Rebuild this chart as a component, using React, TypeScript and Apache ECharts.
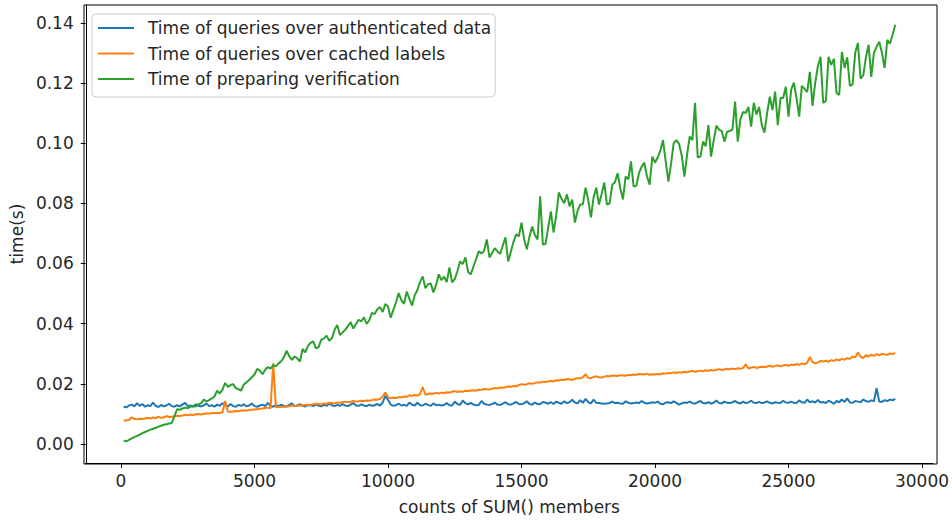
import React, { useEffect, useRef } from "react";
import * as echarts from "echarts";

// x: counts of SUM() members (regular grid, 100 .. 29000)
const COUNT_START = 100;
const COUNT_STEP = 100;

// Times in units of 0.1 ms (1e-4 s)
const authenticatedTenthMs = [
  124, 122, 128, 131, 125, 136, 127, 133, 124, 129,
  126, 138, 127, 123, 130, 125, 128, 134, 126, 124,
  129, 125, 131, 137, 126, 128, 124, 132, 127, 125,
  128, 135, 126, 129, 124, 131, 127, 136, 129, 125,
  133, 126, 124, 130, 127, 132, 125, 128, 135, 126,
  124, 128, 131, 126, 137, 127, 124, 129, 126, 131,
  127, 124, 130, 135, 126, 128, 133, 127, 125, 130,
  129, 126, 132, 128, 125, 131, 127, 134, 129, 126,
  130, 127, 133, 128, 126, 131, 136, 128, 127, 132,
  128, 126, 131, 127, 129, 133, 128, 138, 160, 147,
  131, 127, 129, 134, 128, 130, 127, 138, 131, 128,
  137, 129, 128, 134, 130, 127, 135, 129, 131, 128,
  130, 136, 129, 128, 141, 133, 130, 145, 135, 132,
  137, 131, 129, 130, 143, 134, 131, 130, 133, 138,
  131, 130, 134, 139, 132, 131, 135, 140, 133, 132,
  136, 142, 133, 131, 138, 133, 132, 140, 137, 134,
  139, 133, 141, 137, 134, 142, 136, 139, 147, 138,
  135, 146, 137, 150, 139, 135, 148, 137, 136, 135,
  134, 135, 136, 141, 136, 137, 135, 134, 142, 137,
  135, 136, 138, 136, 143, 137, 135, 136, 139, 137,
  141, 134, 132, 138, 139, 136, 142, 137, 131, 135,
  138, 137, 141, 136, 134, 139, 143, 136, 135, 139,
  134, 137, 145, 136, 135, 141, 137, 136, 139, 143,
  137, 135, 141, 136, 138, 144, 137, 136, 140, 136,
  138, 142, 137, 135, 139, 137, 136, 144, 138, 137,
  141, 137, 136, 145, 139, 137, 148, 139, 142, 138,
  146, 138, 140, 136, 144, 139, 134, 143, 139, 148,
  140, 152, 138, 137, 143, 141, 139, 148, 143, 140,
  145, 142, 186, 141, 140, 146, 143, 148, 145, 150,
];

const cachedTenthMs = [
  77, 79, 80, 89, 84, 82, 84, 83, 85, 87,
  85, 88, 86, 91, 87, 88, 93, 90, 91, 92,
  94, 93, 95, 97, 96, 98, 96, 99, 100, 98,
  100, 102, 101, 103, 102, 104, 103, 106, 143, 108,
  107, 108, 110, 109, 111, 112, 111, 113, 114, 115,
  116, 117, 118, 120, 121, 119, 268, 122, 123, 124,
  124, 126, 125, 128, 127, 126, 129, 128, 130, 131,
  130, 132, 134, 133, 131, 135, 134, 137, 136, 135,
  138, 137, 139, 141, 139, 140, 143, 141, 142, 144,
  143, 145, 144, 146, 148, 147, 150, 158, 171, 156,
  152, 154, 153, 156, 155, 158, 157, 162, 160, 163,
  161, 166, 189, 164, 166, 168, 167, 170, 168, 171,
  169, 172, 171, 174, 176, 173, 175, 174, 177, 176,
  178, 179, 177, 181, 180, 183, 182, 181, 184, 186,
  185, 188, 187, 189, 191, 190, 193, 192, 196, 199,
  197, 199, 202, 200, 203, 205, 204, 207, 206, 208,
  210, 208, 212, 211, 214, 213, 216, 215, 213, 217,
  219, 218, 222, 232, 220, 219, 223, 225, 222, 221,
  224, 226, 225, 228, 227, 226, 229, 228, 227, 230,
  229, 231, 230, 233, 232, 231, 234, 230, 232, 231,
  233, 232, 235, 234, 236, 235, 238, 236, 239, 237,
  240, 238, 241, 243, 240, 242, 244, 242, 245, 243,
  246, 244, 247, 249, 246, 248, 250, 248, 251, 249,
  252, 250, 253, 265, 251, 254, 256, 253, 255, 257,
  256, 258, 260, 257, 259, 262, 258, 261, 263, 260,
  264, 262, 266, 263, 268, 265, 270, 289, 273, 268,
  271, 276, 274, 277, 273, 279, 276, 281, 278, 283,
  280, 286, 283, 291, 288, 304, 290, 286, 295, 291,
  297, 293, 299, 295, 300, 298, 296, 301, 299, 303,
];

const preparingTenthMs = [
  11, 9, 14, 19, 23, 27, 31, 36, 40, 44,
  48, 51, 54, 58, 61, 64, 66, 68, 70, 92,
  116, 114, 118, 121, 119, 124, 127, 125, 132, 135,
  148, 142, 146, 152, 158, 177, 168, 181, 203, 190,
  196, 199, 186, 182, 178, 198, 205, 213, 222, 231,
  250, 244, 232, 247, 256, 251, 262, 258, 268, 275,
  288, 310, 292, 280, 291, 285, 274, 316, 305, 326,
  336, 341, 318, 322, 347, 351, 360, 343, 352, 380,
  396, 362, 371, 380, 392, 405, 384, 399, 413, 408,
  421, 399, 412, 436, 432, 448, 455, 439, 465, 457,
  420, 446, 471, 502, 478, 466, 507, 483, 460, 494,
  512, 539, 557, 518, 531, 534, 504, 528, 564, 545,
  556, 538, 587, 537, 548, 575, 607, 598, 620, 572,
  564, 590, 615, 641, 633, 642, 680, 620, 636, 651,
  640, 632, 660, 687, 607, 638, 672, 697, 690, 736,
  680, 647, 690, 723, 695, 680, 823, 663, 665, 720,
  773, 703, 760, 836, 815, 800, 830, 790, 812, 736,
  775, 796, 797, 852, 810, 753, 820, 852, 796, 830,
  869, 796, 800, 862, 870, 900, 850, 813, 889, 880,
  939, 856, 858, 900, 922, 935, 890, 862, 955, 935,
  952, 975, 1010, 940, 872, 930, 1000, 1010, 998, 960,
  889, 960, 1022, 1010, 1134, 952, 955, 1005, 990, 1060,
  955, 1010, 1058, 1045, 1040, 1005, 1038, 1040, 1045, 1138,
  1005, 1080, 1104, 1100, 1120, 1055, 1134, 1095, 1120, 1060,
  1035, 1100, 1154, 1110, 1171, 1060, 1150, 1150, 1187, 1088,
  1177, 1201, 1150, 1088, 1190, 1180, 1170, 1237, 1124, 1200,
  1255, 1287, 1134, 1140, 1287, 1260, 1280, 1167, 1160, 1303,
  1250, 1285, 1190, 1195, 1300, 1333, 1214, 1225, 1285, 1327,
  1220, 1300, 1320, 1337, 1300, 1250, 1343, 1330, 1360, 1393,
];

const seriesNames = [
  "Time of queries over authenticated data",
  "Time of queries over cached labels",
  "Time of preparing verification",
];
const seriesColors = ["#1f77b4", "#ff7f0e", "#2ca02c"];

const xTicks = [0, 5000, 10000, 15000, 20000, 25000, 30000];
const yTicks = [0, 0.02, 0.04, 0.06, 0.08, 0.1, 0.12, 0.14];

const FONT = "DejaVu Sans";
const FS = 17;
const TXT = "#262626";

function toPairs(vals: number[]) {
  return vals.map((v, i) => [COUNT_START + i * COUNT_STEP, v / 10000]);
}

const X_MIN = -1321;
const X_MAX = 30409;
const Y_MIN = -0.0063;
const Y_MAX = 0.1459;

const W = 952;
const H = 520;
const G_LEFT = 84;
const G_RIGHT = 15;
const G_TOP = 5;
const G_BOTTOM = 56;

export default function App() {
  const ref = useRef<HTMLDivElement>(null);
  useEffect(() => {
    if (!ref.current) return;
    const chart = echarts.init(ref.current, undefined, { renderer: "svg" });
    const data = [authenticatedTenthMs, cachedTenthMs, preparingTenthMs];
    chart.setOption({
      animation: false,
      backgroundColor: "#ffffff",
      textStyle: { fontFamily: FONT },
      grid: {
        left: G_LEFT,
        right: G_RIGHT,
        top: G_TOP,
        bottom: G_BOTTOM,
      },
      graphic: [
        {
          type: "rect",
          z: 100,
          silent: true,
          shape: { x: G_LEFT, y: G_TOP, width: W - G_LEFT - G_RIGHT, height: H - G_TOP - G_BOTTOM },
          style: { fill: "none", stroke: "#000", lineWidth: 1 },
        },
      ],
      legend: {
        orient: "vertical",
        left: 92,
        top: 14,
        icon: "rect",
        itemWidth: 36,
        itemHeight: 2.2,
        itemGap: 8.5,
        padding: [5.5, 4, 9.5, 6],
        backgroundColor: "rgba(255,255,255,0.8)",
        borderColor: "#cccccc",
        borderWidth: 1,
        borderRadius: 4,
        textStyle: { fontSize: FS, color: TXT, fontFamily: FONT, padding: [0, 0, 0, 9] },
        data: seriesNames,
      },
      xAxis: {
        type: "value",
        min: X_MIN,
        max: X_MAX,
        name: "counts of SUM() members",
        nameLocation: "middle",
        nameGap: 35,
        nameTextStyle: { fontSize: FS, color: TXT, fontFamily: FONT },
        axisLine: { show: true, onZero: false, lineStyle: { color: "#000", width: 1 } },
        axisTick: { show: true, inside: false, length: 5, customValues: xTicks, lineStyle: { color: "#000" } },
        axisLabel: {
          show: true,
          customValues: xTicks,
          fontSize: FS,
          color: TXT,
          fontFamily: FONT,
          margin: 9,
          formatter: (v: number) => String(v),
        },
        splitLine: { show: false },
      },
      yAxis: {
        type: "value",
        min: Y_MIN,
        max: Y_MAX,
        name: "time(s)",
        nameLocation: "middle",
        nameGap: 56,
        nameRotate: 90,
        nameTextStyle: { fontSize: FS, color: TXT, fontFamily: FONT },
        axisLine: { show: true, onZero: false, lineStyle: { color: "#000", width: 1 } },
        axisTick: { show: true, inside: false, length: 5, customValues: yTicks, lineStyle: { color: "#000" } },
        axisLabel: {
          show: true,
          customValues: yTicks,
          fontSize: FS,
          color: TXT,
          fontFamily: FONT,
          margin: 12,
          formatter: (v: number) => v.toFixed(2),
        },
        splitLine: { show: false },
      },
      series: data.map((vals, i) => ({
        name: seriesNames[i],
        type: "line",
        symbol: "none",
        showSymbol: false,
        data: toPairs(vals),
        lineStyle: { color: seriesColors[i], width: 2 },
        itemStyle: { color: seriesColors[i] },
        z: 2 + i,
      })),
    });
    return () => chart.dispose();
  }, []);
  return (
    <div
      ref={ref}
      style={{ position: "fixed", left: 0, top: 0, width: W, height: H, background: "#fff" }}
    />
  );
}
